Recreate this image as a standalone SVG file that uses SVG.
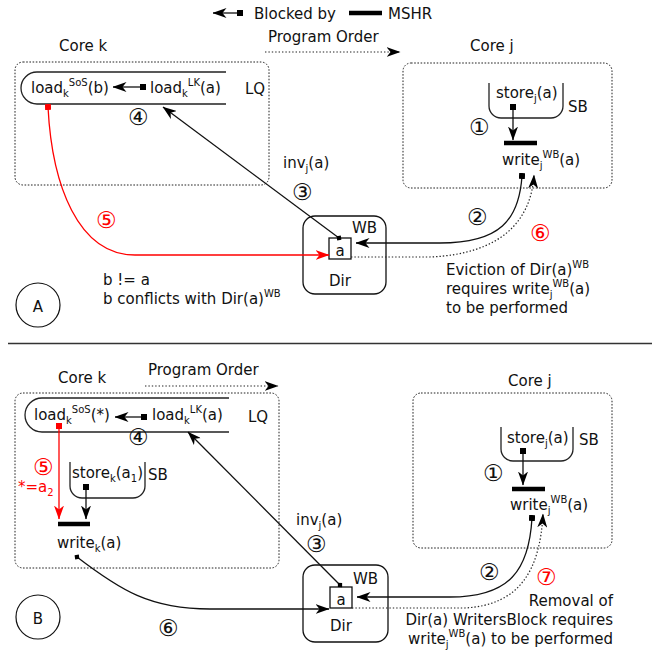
<svg xmlns="http://www.w3.org/2000/svg" width="652" height="655" viewBox="0 0 652 655">
  <style>
    text { font-family: "DejaVu Sans", "Liberation Sans", sans-serif; font-size: 15px; fill: #111; }
    .red { fill: #ff0000; }
    .num { font-size: 23px; font-weight: 200; text-anchor: middle; }
    .sm { font-size: 10px; }
    .core { fill: none; stroke: #222; stroke-width: 1; stroke-dasharray: 1.6 1.6; }
    .queue { fill: none; stroke: #222; stroke-width: 1.3; }
    .box { fill: #fff; stroke: #111; stroke-width: 1.3; }
    .wire { fill: none; stroke: #111; stroke-width: 1.3; }
    .wire-red { fill: none; stroke: #ff0000; stroke-width: 1.3; }
    .dots { fill: none; stroke: #222; stroke-width: 1.2; stroke-dasharray: 1.4 2; }
    .mshr { stroke: #000; stroke-width: 4.5; }
  </style>
  <defs>
    <marker id="tip" markerUnits="userSpaceOnUse" viewBox="0 0 14 10" refX="13.5" refY="5" markerWidth="14" markerHeight="10" orient="auto">
      <path d="M0,0 L14,5 L0,10 L4,5 z" fill="#000"/>
    </marker>
    <marker id="tip-red" markerUnits="userSpaceOnUse" viewBox="0 0 14 10" refX="13.5" refY="5" markerWidth="14" markerHeight="10" orient="auto">
      <path d="M0,0 L14,5 L0,10 L4,5 z" fill="#ff0000"/>
    </marker>
    <marker id="sq" markerUnits="userSpaceOnUse" viewBox="0 0 6 6" refX="3" refY="3" markerWidth="6" markerHeight="6" orient="auto">
      <rect width="6" height="6" fill="#000"/>
    </marker>
    <marker id="sq-red" markerUnits="userSpaceOnUse" viewBox="0 0 6 6" refX="3" refY="3" markerWidth="6" markerHeight="6" orient="auto">
      <rect width="6" height="6" fill="#ff0000"/>
    </marker>
    <marker id="dot" markerUnits="userSpaceOnUse" viewBox="0 0 6 6" refX="3" refY="3" markerWidth="6" markerHeight="6" orient="auto">
      <path d="M3,0 L6,3 L3,6 L0,3 z" fill="#000"/>
    </marker>
  </defs>

  <!-- legend -->
  <g id="legend">
    <line x1="240" y1="13" x2="213" y2="13" class="wire" marker-start="url(#sq)" marker-end="url(#tip)"/>
    <text x="254" y="19">Blocked by</text>
    <line x1="349" y1="13" x2="382" y2="13" class="mshr"/>
    <text x="388" y="19">MSHR</text>
  </g>

  <!-- ===== Scenario A ===== -->
  <g id="a-order">
    <text x="268" y="42">Program Order</text>
    <line x1="265" y1="52" x2="400" y2="52" class="dots" marker-end="url(#tip)"/>
  </g>

  <g id="a-core-k">
    <text x="59" y="51">Core k</text>
    <rect x="15" y="62" width="254" height="123" rx="8" class="core"/>
    <path d="M226,72 H37 A16,16 0 0 0 37,104 H226" class="queue"/>
    <text x="245" y="94">LQ</text>
    <text x="31" y="93">load<tspan class="sm" dy="4">k</tspan><tspan class="sm" dy="-11">SoS</tspan><tspan dy="7">(b)</tspan></text>
    <text x="150" y="93">load<tspan class="sm" dy="4">k</tspan><tspan class="sm" dy="-11">LK</tspan><tspan dy="7">(a)</tspan></text>
    <text class="num" x="138" y="125">④</text>
  </g>

  <g id="a-core-j">
    <text x="470" y="51">Core j</text>
    <rect x="403" y="63" width="209" height="125" rx="8" class="core"/>
    <path d="M489,83 V106 A12,12 0 0 0 501,118 H551 A12,12 0 0 0 563,106 V83" class="queue"/>
    <text x="496" y="98">store<tspan class="sm" dy="4">j</tspan><tspan dy="-4">(a)</tspan></text>
    <text x="568" y="112">SB</text>
    <line x1="504" y1="143" x2="537" y2="143" class="mshr"/>
    <text x="502" y="165">write<tspan class="sm" dy="4">j</tspan><tspan class="sm" dy="-11">WB</tspan><tspan dy="7">(a)</tspan></text>
    <text class="num" x="479" y="135">①</text>
  </g>

  <g id="a-dir">
    <rect x="303" y="216" width="83" height="78" rx="12" class="box"/>
    <text x="352" y="233">WB</text>
    <rect x="329" y="238" width="22" height="21" class="box"/>
    <text x="340" y="256" text-anchor="middle">a</text>
    <text x="329" y="286">Dir</text>
  </g>

  <g id="a-notes">
    <text x="103" y="285">b != a</text>
    <text x="103" y="304">b conflicts with Dir(a)<tspan class="sm" dy="-7">WB</tspan></text>
    <text x="283" y="168">inv<tspan class="sm" dy="4">j</tspan><tspan dy="-4">(a)</tspan></text>
    <text class="num" x="302" y="200">③</text>
    <text class="num" x="477" y="225">②</text>
    <text class="num red" x="540" y="241">⑥</text>
    <text class="num red" x="106" y="228">⑤</text>
    <text x="446" y="275">Eviction of Dir(a)<tspan class="sm" dy="-7">WB</tspan></text>
    <text x="446" y="294">requires write<tspan class="sm" dy="4">j</tspan><tspan class="sm" dy="-11">WB</tspan><tspan dy="7">(a)</tspan></text>
    <text x="446" y="313">to be performed</text>
  </g>

  <g id="a-label">
    <circle cx="38" cy="305" r="22" fill="none" stroke="#111" stroke-width="1.2"/>
    <text x="38" y="312" text-anchor="middle" font-size="21">A</text>
  </g>

  <g id="a-connectors">
    <line x1="143" y1="87" x2="113" y2="87" class="wire" marker-start="url(#sq)" marker-end="url(#tip)"/>
    <line x1="513" y1="107" x2="513" y2="140" class="wire" marker-start="url(#sq)" marker-end="url(#tip)"/>
    <line x1="339" y1="238" x2="163" y2="107" class="wire" marker-start="url(#dot)" marker-end="url(#tip)"/>
    <path d="M522,176 C519,220 500,243 440,243 L356,243" class="wire" marker-start="url(#sq)" marker-end="url(#tip)"/>
    <path d="M351,257 L430,257 C500,254 531,222 534,175" class="dots" marker-end="url(#tip)"/>
    <path d="M48,107 C52,185 78,255 135,255 L329,255" class="wire-red" marker-start="url(#sq-red)" marker-end="url(#tip-red)"/>
  </g>

  <!-- separator -->
  <line x1="8" y1="343.5" x2="652" y2="343.5" stroke="#333" stroke-width="1.3"/>

  <!-- ===== Scenario B ===== -->
  <g id="b-order">
    <text x="148" y="375">Program Order</text>
    <line x1="145" y1="386" x2="278" y2="386" class="dots" marker-end="url(#tip)"/>
  </g>

  <g id="b-core-k">
    <text x="58" y="383">Core k</text>
    <rect x="15" y="393" width="264" height="175" rx="8" class="core"/>
    <path d="M229,398 H42 A17,17 0 0 0 42,432 H229" class="queue"/>
    <text x="248" y="422">LQ</text>
    <text x="34" y="420">load<tspan class="sm" dy="4">k</tspan><tspan class="sm" dy="-11">SoS</tspan><tspan dy="7">(*)</tspan></text>
    <text x="152" y="420">load<tspan class="sm" dy="4">k</tspan><tspan class="sm" dy="-11">LK</tspan><tspan dy="7">(a)</tspan></text>
    <text class="num" x="138" y="445">④</text>
    <path d="M70,462 V486 A12,12 0 0 0 82,498 H133 A12,12 0 0 0 145,486 V462" class="queue"/>
    <text x="72" y="478">store<tspan class="sm" dy="4">k</tspan><tspan dy="-4">(a</tspan><tspan class="sm" dy="4">1</tspan><tspan dy="-4">)</tspan></text>
    <text x="148" y="480">SB</text>
    <line x1="58" y1="524" x2="90" y2="524" class="mshr"/>
    <text x="57" y="548">write<tspan class="sm" dy="4">k</tspan><tspan dy="-4">(a)</tspan></text>
    <text class="num red" x="43" y="475">⑤</text>
    <text class="red" x="18" y="492">*=a<tspan class="sm" dy="4">2</tspan></text>
  </g>

  <g id="b-core-j">
    <text x="508" y="386">Core j</text>
    <rect x="413" y="393" width="199" height="155" rx="8" class="core"/>
    <path d="M501,427 V449 A12,12 0 0 0 513,461 H561 A12,12 0 0 0 573,449 V427" class="queue"/>
    <text x="507" y="443">store<tspan class="sm" dy="4">j</tspan><tspan dy="-4">(a)</tspan></text>
    <text x="579" y="445">SB</text>
    <line x1="512" y1="489" x2="545" y2="489" class="mshr"/>
    <text x="510" y="510">write<tspan class="sm" dy="4">j</tspan><tspan class="sm" dy="-11">WB</tspan><tspan dy="7">(a)</tspan></text>
    <text class="num" x="493" y="481">①</text>
  </g>

  <g id="b-dir">
    <rect x="303" y="565" width="85" height="77" rx="12" class="box"/>
    <text x="353" y="584">WB</text>
    <rect x="330" y="587" width="22" height="21" class="box"/>
    <text x="341" y="605" text-anchor="middle">a</text>
    <text x="330" y="631">Dir</text>
  </g>

  <g id="b-notes">
    <text x="296" y="525">inv<tspan class="sm" dy="4">j</tspan><tspan dy="-4">(a)</tspan></text>
    <text class="num" x="316" y="552">③</text>
    <text class="num" x="489" y="580">②</text>
    <text class="num red" x="546" y="585">⑦</text>
    <text class="num" x="168" y="636">⑥</text>
    <text x="613" y="606" text-anchor="end">Removal of</text>
    <text x="613" y="625" text-anchor="end">Dir(a) WritersBlock requires</text>
    <text x="613" y="644" text-anchor="end">write<tspan class="sm" dy="4">j</tspan><tspan class="sm" dy="-11">WB</tspan><tspan dy="7">(a) to be performed</tspan></text>
  </g>

  <g id="b-label">
    <circle cx="38" cy="617" r="22" fill="none" stroke="#111" stroke-width="1.2"/>
    <text x="38" y="624" text-anchor="middle" font-size="21">B</text>
  </g>

  <g id="b-connectors">
    <line x1="144" y1="417" x2="115" y2="417" class="wire" marker-start="url(#sq)" marker-end="url(#tip)"/>
    <line x1="86" y1="487" x2="86" y2="519" class="wire" marker-start="url(#sq)" marker-end="url(#tip)"/>
    <line x1="523" y1="451" x2="523" y2="485" class="wire" marker-start="url(#sq)" marker-end="url(#tip)"/>
    <line x1="340" y1="585" x2="188" y2="432" class="wire" marker-start="url(#dot)" marker-end="url(#tip)"/>
    <path d="M532,518 C529,570 510,597 450,597 L357,597" class="wire" marker-start="url(#sq)" marker-end="url(#tip)"/>
    <path d="M352,608 L465,608 C520,605 540,570 543,514" class="dots" marker-end="url(#tip)"/>
    <path d="M77,557 C120,590 150,609 210,609 L329,609" class="wire" marker-start="url(#dot)" marker-end="url(#tip)"/>
    <line x1="59" y1="426" x2="59" y2="519" class="wire-red" marker-start="url(#sq-red)" marker-end="url(#tip-red)"/>
  </g>
</svg>
